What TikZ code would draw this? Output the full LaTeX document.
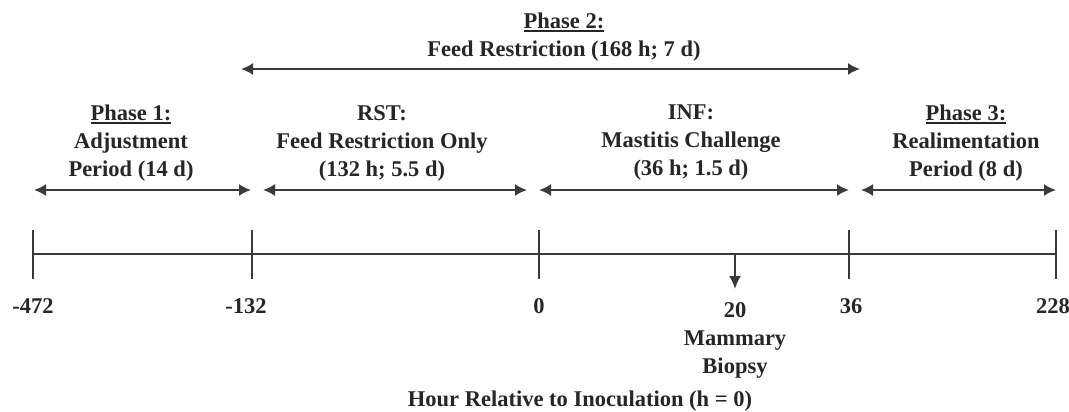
\documentclass[tikz,border=0pt]{standalone}
\usepackage{fontspec}
\setmainfont{Liberation Serif}
\usetikzlibrary{arrows.meta}
\definecolor{ink}{HTML}{262626}
\definecolor{linec}{HTML}{3A3A3A}
\newcommand{\phul}[1]{\setbox0\hbox{#1}\rlap{\rule[-3.2pt]{\wd0}{1.7pt}}\box0}
\begin{document}
\begin{tikzpicture}[x=1pt,y=-1pt,
  lbl/.style={font=\fontsize{22.5}{28}\selectfont\bfseries, text=ink, align=center, inner sep=0pt},
  span/.style={draw=linec, line width=2pt, {Latex[length=12pt,width=12pt]}-{Latex[length=12pt,width=12pt]}},
  axisline/.style={draw=linec, line width=2pt},
  downarrow/.style={draw=linec, line width=2pt, -{Latex[length=13pt,width=12pt]}}]
\useasboundingbox (0,0) rectangle (1069,412);
% axis
\coordinate (a1) at (33,254);
\coordinate (a2) at (252,254);
\coordinate (a3) at (539,254);
\coordinate (a4) at (849,254);
\coordinate (a5) at (1056,254);
\draw[axisline] (a1) -- (a5);
\foreach \n/\x in {1/33,2/252,3/539,4/849,5/1056}{
  \coordinate (t\n) at (\x,230);
  \coordinate (b\n) at (\x,279);
  \draw[axisline] (t\n) -- (b\n);
}
% biopsy arrow
\coordinate (bio0) at (735,254);
\coordinate (bio1) at (735,289);
\draw[downarrow] (bio0) -- (bio1);
% phase 2 arrow
\coordinate (p2l) at (241,69);
\coordinate (p2r) at (860,69);
\draw[span] (p2l) -- (p2r);
% lower span arrows
\coordinate (s1l) at (34,190);
\coordinate (s1r) at (251,190);
\coordinate (s2l) at (263,190);
\coordinate (s2r) at (527,190);
\coordinate (s3l) at (539,190);
\coordinate (s3r) at (849,190);
\coordinate (s4l) at (861,190);
\coordinate (s4r) at (1056,190);
\draw[span] (s1l) -- (s1r);
\draw[span] (s2l) -- (s2r);
\draw[span] (s3l) -- (s3r);
\draw[span] (s4l) -- (s4r);
% texts
\node[lbl] (ph2) at (564,37) {\phul{Phase 2:}\\Feed Restriction (168 h; 7 d)};
\node[lbl] (ph1) at (131,143) {\phul{Phase 1:}\\Adjustment\\Period (14 d)};
\node[lbl] (rst) at (382,143) {RST:\\Feed Restriction Only\\(132 h; 5.5 d)};
\node[lbl] (inf) at (691,143) {INF:\\Mastitis Challenge\\(36 h; 1.5 d)};
\node[lbl] (ph3) at (966,143) {\phul{Phase 3:}\\Realimentation\\Period (8 d)};
% tick labels
\node[lbl] (l1) at (33,306) {-472};
\node[lbl] (l2) at (246,306) {-132};
\node[lbl] (l3) at (539,306) {0};
\node[lbl] (l4) at (851,306) {36};
\node[lbl] (l5) at (1053,306) {228};
\node[lbl] (l6) at (735,340) {20\\Mammary\\Biopsy};
\node[lbl] (xl) at (580,401) {Hour Relative to Inoculation (h = 0)};
\end{tikzpicture}
\end{document}
